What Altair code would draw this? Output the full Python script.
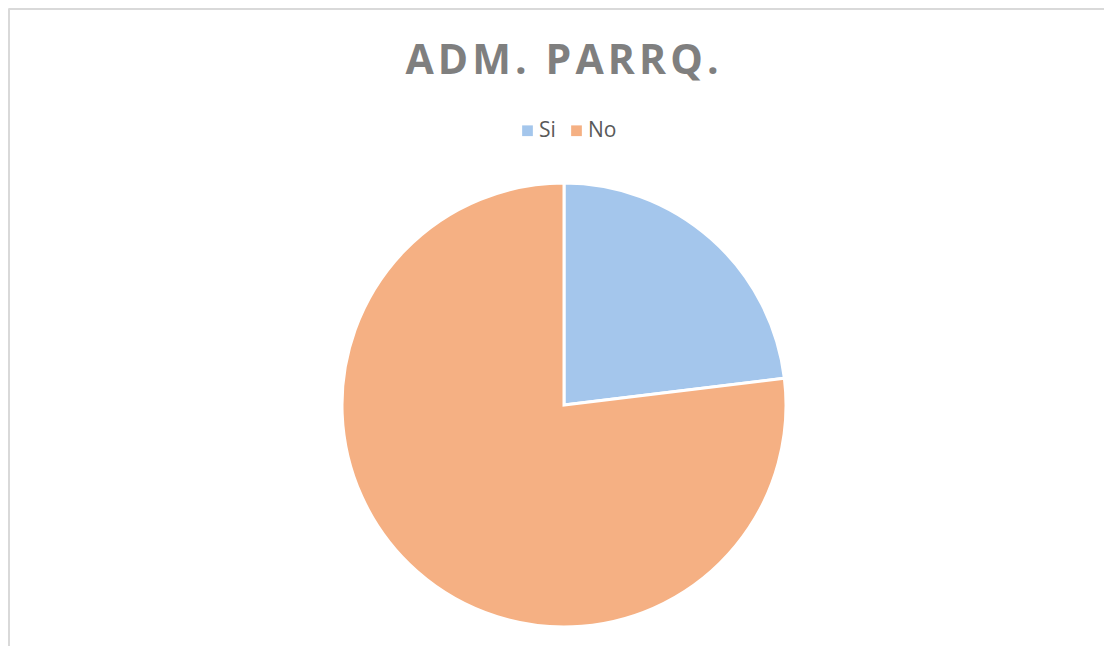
import altair as alt
import pandas as pd

categories = ["Si", "No"]
values = [3, 10]
colors = ["#A4C6EC", "#F5B083"]
title_text = "A\u200aD\u200aM\u200a.\u200a \u200aP\u200aA\u200aR\u200aR\u200aQ\u200a."

df = pd.DataFrame({"respuesta": categories, "valor": values, "orden": [0, 1]})

pie = alt.Chart(df).mark_arc(stroke="white", strokeWidth=3).encode(
    theta=alt.Theta("valor:Q", stack=True),
    order=alt.Order("orden:Q"),
    color=alt.Color(
        "respuesta:N",
        scale=alt.Scale(domain=categories, range=colors),
        sort=categories,
        legend=alt.Legend(
            title=None,
            orient="none",
            direction="horizontal",
            legendX=509,
            legendY=112,
            symbolType="square",
            symbolSize=115,
            symbolStrokeWidth=0,
            labelFont="Open Sans",
            labelFontSize=21,
            labelColor="#595959",
            columnPadding=10,
            labelOffset=1,
        ),
    ),
    x=alt.value(556),
    y=alt.value(397),
    radius=alt.value(222),
)

frame_df = pd.DataFrame({"a": [0]})
left_line = alt.Chart(frame_df).mark_rule(color="#d9d9d9", strokeWidth=2).encode(
    x=alt.value(1), y=alt.value(1), y2=alt.value(638)
)
top_line = alt.Chart(frame_df).mark_rule(color="#d9d9d9", strokeWidth=2).encode(
    x=alt.value(1), x2=alt.value(1096), y=alt.value(1)
)

chart = alt.layer(left_line, top_line, pie).properties(
    width=1096,
    height=638,
    padding=0,
    autosize=alt.AutoSizeParams(type="none"),
    title=alt.TitleParams(
        title_text,
        anchor="middle",
        font="Open Sans",
        fontSize=41,
        fontWeight="bold",
        color="#7F7F7F",
        dy=79,
        dx=6,
    ),
).configure_view(stroke=None).configure(background="white")

chart.save("out.html", embed_options={"renderer": "svg", "actions": False})
